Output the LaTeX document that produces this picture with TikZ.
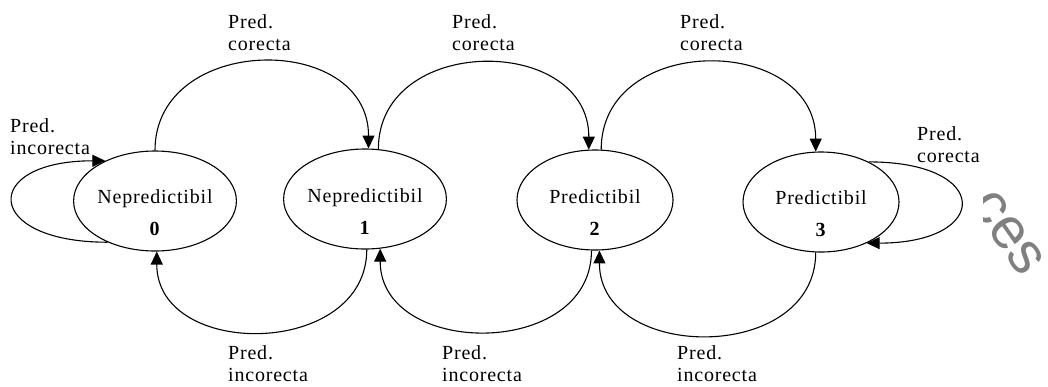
\documentclass[tikz,border=0pt]{standalone}
\usepackage{fontspec}
\setmainfont{Liberation Serif}[LetterSpace=4]
\newfontfamily\wmfont{Liberation Sans}
\usetikzlibrary{shapes.geometric,arrows.meta}

\tikzset{
  state/.style={ellipse, draw, line width=1.1pt, minimum width=156pt, minimum height=100pt,
    inner sep=0pt, align=center, text height=70pt},
  lbl/.style={align=left, inner sep=0pt, anchor=north west},
  edge/.style={line width=1.1pt, -{Triangle[length=13pt,width=12pt]}}
}

\begin{document}
\begin{tikzpicture}[x=1pt, y=-1pt, font=\fontsize{20}{22}\selectfont]
  \useasboundingbox (0,0) rectangle (1048,386);

  % states
  \node[state] (e0) at (155,201) {Nepredictibil\\[10pt]\textbf{0}};
  \node[state] (e1) at (365,199) {Nepredictibil\\[10pt]\textbf{1}};
  \node[state] (e2) at (595,200) {Predictibil\\[10pt]\textbf{2}};
  \node[state] (e3) at (821,202) {Predictibil\\[10pt]\textbf{3}};

  % correct predictions, going up
  \draw[edge] (e0.90) to[out=90, in=90, looseness=1.4] (e1.86);
  \draw[edge] (e1.75) to[out=90, in=90, looseness=1.4] (e2.97);
  \draw[edge] (e2.83) to[out=90, in=90, looseness=1.4] (e3.96);
  \draw[edge] (e3.40) .. controls +(124,0) and +(124,0) .. (e3.318);

  % wrong predictions, going down
  \draw[edge] (e1.272) to[out=-90, in=-90, looseness=1.32] (e0.272);
  \draw[edge] (e2.266) to[out=-90, in=-90, looseness=1.32] (e1.287);
  \draw[edge] (e3.264) to[out=-90, in=-90, looseness=1.32] (e2.275);
  \draw[edge] (e0.221) .. controls +(-125,0) and +(-125,0) .. (e0.141);

  % labels
  \node[lbl] (c01) at (228,14) {Pred.\\corecta};
  \node[lbl] (c12) at (452,14) {Pred.\\corecta};
  \node[lbl] (c23) at (680,14) {Pred.\\corecta};
  \node[lbl] (c33) at (917,126) {Pred.\\corecta};
  \node[lbl] (i10) at (228,345) {Pred.\\incorecta};
  \node[lbl] (i21) at (442,345) {Pred.\\incorecta};
  \node[lbl] (i32) at (677,345) {Pred.\\incorecta};
  \node[lbl] (i00) at (10,118) {Pred.\\incorecta};

  % watermark
  \begin{scope}
    \clip (983,0) rectangle (1048,386);
    \node[rotate=-55, inner sep=0pt, text=gray, font=\wmfont\fontsize{58}{58}\selectfont] (wm) at (1008,233) {ces};
  \end{scope}
\end{tikzpicture}
\end{document}
